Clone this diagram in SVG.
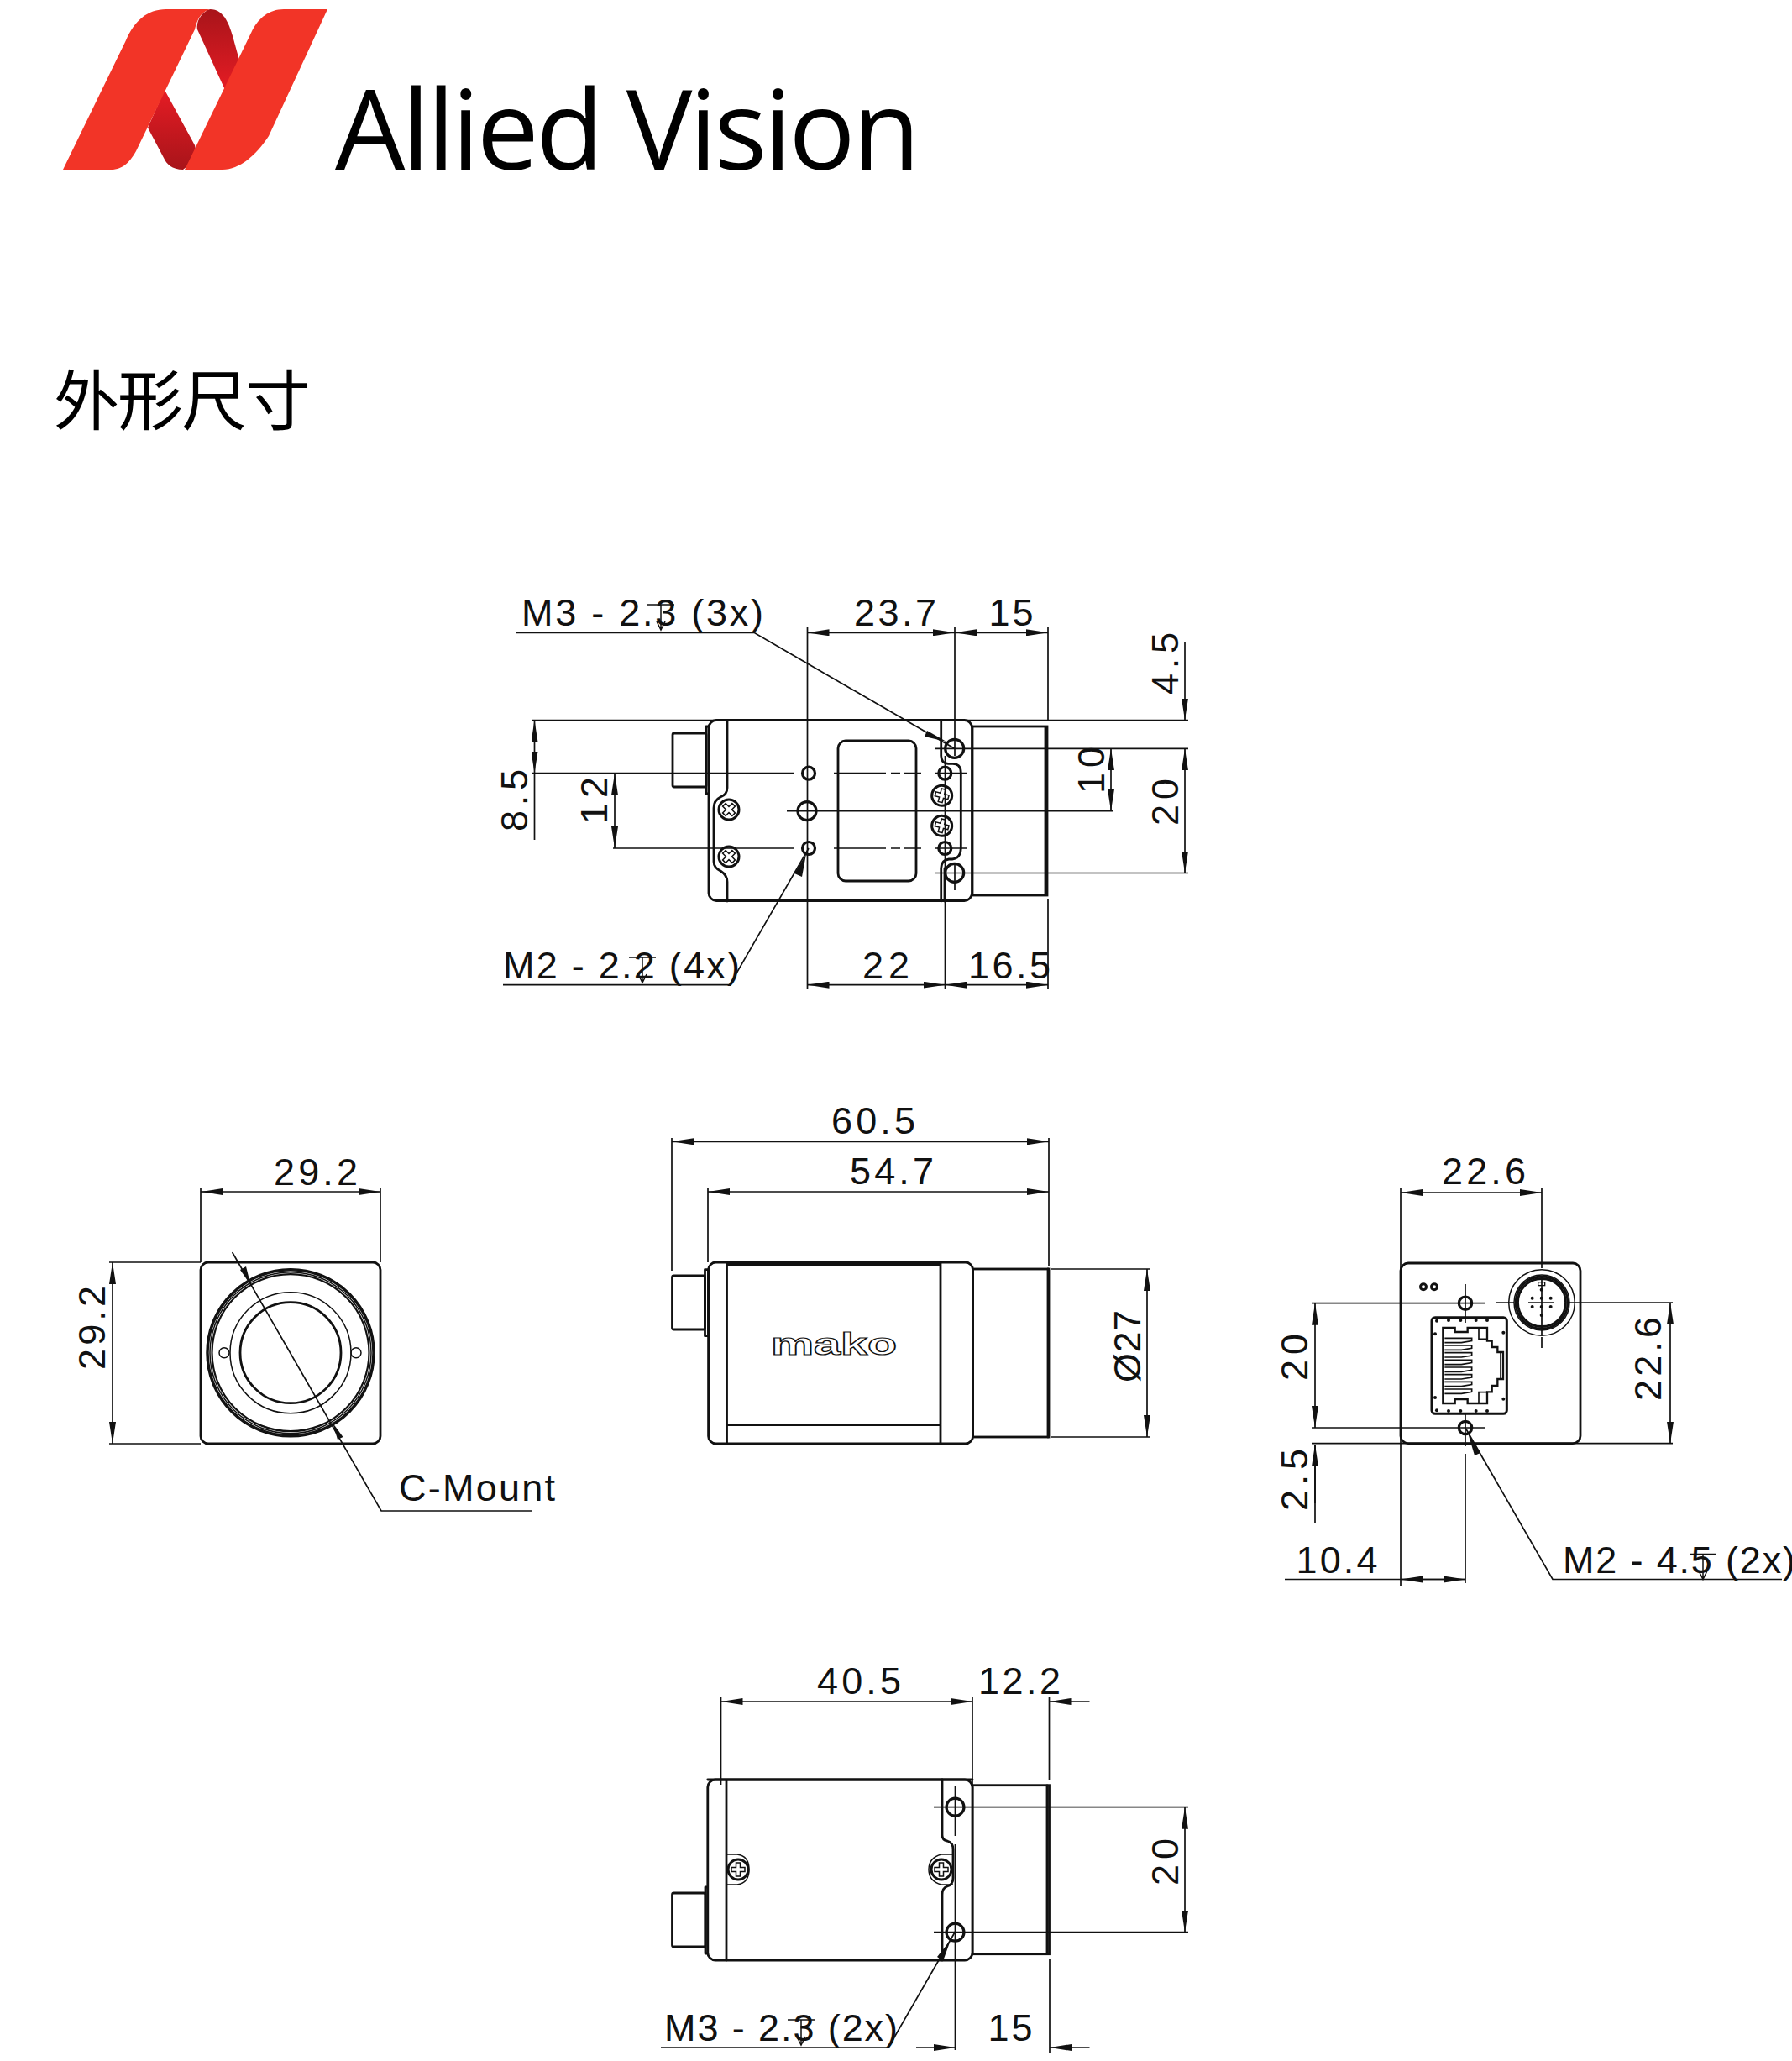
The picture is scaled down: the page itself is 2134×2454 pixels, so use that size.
<svg xmlns="http://www.w3.org/2000/svg" xmlns:xlink="http://www.w3.org/1999/xlink" width="2134" height="2454" viewBox="0 0 2134 2454">
<style>
text{font-family:"Liberation Sans",Arial,sans-serif;font-size:45px;fill:#111}
.c{text-anchor:middle}
.o{fill:none;stroke:#111;stroke-width:2.8;stroke-linejoin:round;stroke-linecap:round}
.t{fill:none;stroke:#111;stroke-width:1.5}
.w{fill:#fff;stroke:#111;stroke-width:2.8}
.d{fill:none;stroke:#111;stroke-width:1.7;marker-start:url(#a);marker-end:url(#a)}
.e{fill:none;stroke:#111;stroke-width:1.7;marker-end:url(#a)}
.s{fill:none;stroke:#111;stroke-width:1.7}
.p{fill:#111}
</style>
<defs>
<marker id="a" viewBox="0 0 26 8" refX="26" refY="4" markerWidth="26" markerHeight="8" markerUnits="userSpaceOnUse" orient="auto-start-reverse"><path d="M0 0L26 4L0 8Z" fill="#111"/></marker>
<linearGradient id="g1" x1="0" y1="0" x2="0" y2="1"><stop offset="0" stop-color="#a8141a"/><stop offset="1" stop-color="#e51c24"/></linearGradient>
<linearGradient id="g2" x1="0" y1="0" x2="0" y2="1"><stop offset="0" stop-color="#e51c24"/><stop offset="1" stop-color="#a8141a"/></linearGradient>
<g id="screw"><circle r="12" fill="#fff" stroke="#111" stroke-width="3"/><path d="M-2.500 -8H2.500V-2.500H8V2.500H2.500V8H-2.500V2.500H-8V-2.500H-2.500Z" class="t"/></g>
<g id="depth"><path d="M-16 0H16M0 0V30M-5 20L0 30L5 20" class="t"/></g>
<path id="fin" d="M118 0H215V10L178 16H118" fill="none" stroke="#111" stroke-width="5"/>
</defs>
<rect width="2134" height="2454" fill="#fff"/>

<g id="logo">
<path d="M250 11C268 11 274 32 279 50L290 90L268 107L235 35C233 26 240 14 250 11Z" fill="url(#g1)"/>
<path d="M196 107L232 173C235 182 232 192 218 202C205 202 198 195 195 188L176 152Z" fill="url(#g2)"/>
<path d="M75 202L150 48C160 25 175 11 198 11H250C240 14 235 22 232 35L162 180C155 192 147 202 132 202Z" fill="#f23427"/>
<path d="M390 11H338C320 11 308 22 301 35L220 202H265C285 202 305 185 320 162Z" fill="#f23427"/>
<text x="399" y="202" textLength="697" style="font-family:'Open Sans','Noto Sans',sans-serif;font-size:132px;fill:#000">Allied Vision</text>
</g>
<g id="title"><text x="64" y="506" textLength="306" style="font-family:'Liberation Sans','Noto Sans CJK SC',sans-serif;font-size:78px;fill:#000">外形尺寸</text></g>

<g id="view-top">
<rect x="801" y="873" width="40" height="64" rx="2" class="o"/>
<rect x="841" y="865" width="4" height="80" class="o"/>
<rect x="1158" y="865" width="89" height="201" class="w"/>
<path d="M1245 866V1065" class="o"/>
<rect x="844" y="857.500" width="313.500" height="215" rx="9" class="w"/>
<path d="M866 858V938Q866 946 858 949Q850 953 850 962V1026Q850 1033 858 1037Q866 1042 866 1050V1073" class="o"/>
<rect x="998" y="882" width="93" height="167" rx="9" class="o"/>
<path d="M1120.700 858V900Q1121 909 1129 909.300H1134Q1144 909 1144.300 920V1010Q1144 1022 1134 1023H1130Q1121 1024 1120.700 1034V1073M1125 1034V1073" class="o"/>
<g fill="#fff" stroke="#111" stroke-width="3.200">
<circle cx="963" cy="920.700" r="7.500"/><circle cx="961" cy="965.700" r="11"/><circle cx="963" cy="1010" r="7.500"/>
<circle cx="1125.300" cy="920.700" r="7.500"/><circle cx="1125.300" cy="1010" r="7.500"/>
<circle cx="1136.700" cy="891.300" r="11"/><circle cx="1136.700" cy="1039.300" r="11"/>
</g>
<use href="#screw" transform="translate(868 964) rotate(45)"/>
<use href="#screw" transform="translate(868 1020) rotate(45)"/>
<use href="#screw" transform="translate(1121.700 947.300) rotate(15)"/>
<use href="#screw" transform="translate(1121.700 983.300) rotate(15)"/>
</g>

<g id="view-front">
<rect x="239" y="1503" width="214" height="216" rx="9" class="w"/>
<g class="t"><circle cx="346" cy="1610.700" r="100"/><circle cx="346" cy="1610.700" r="98"/><circle cx="346" cy="1610.700" r="96"/><circle cx="346" cy="1610.700" r="72"/><circle cx="267" cy="1610.700" r="6"/><circle cx="424" cy="1610.700" r="6"/></g>
<circle cx="346" cy="1610.700" r="99" fill="none" stroke="#111" stroke-width="1.800"/>
<circle cx="346" cy="1610.700" r="93.500" fill="none" stroke="#111" stroke-width="2.200"/>
<circle cx="346" cy="1610.700" r="60" class="o"/>
</g>

<g id="view-side">
<rect x="800.500" y="1519" width="39" height="64" rx="2" class="o"/>
<rect x="839.500" y="1511.700" width="4" height="79" class="o"/>
<rect x="1158" y="1511" width="91" height="200" class="w"/>
<path d="M1248 1511V1711" class="o"/>
<rect x="843.600" y="1503" width="315" height="216" rx="9" class="w"/>
<path d="M865.500 1503V1719M1120 1503V1719M865.500 1505.500H1120M865.500 1696.700H1120" class="o"/>
<text x="993" y="1613" class="c" textLength="150" lengthAdjust="spacingAndGlyphs" style="font-size:36px;font-weight:700;fill:#fff;stroke:#111;stroke-width:1.200">mako</text>
</g>

<g id="view-rear">
<rect x="1668" y="1504" width="214" height="214.700" rx="9" class="w"/>
<circle cx="1695" cy="1532.300" r="3.500" fill="none" stroke="#111" stroke-width="3"/><circle cx="1708" cy="1532.300" r="3.500" fill="none" stroke="#111" stroke-width="3"/>
<g class="t"><circle cx="1836" cy="1551" r="39.300"/><circle cx="1836" cy="1551" r="33"/></g>
<circle cx="1836" cy="1551" r="31" class="o"/><circle cx="1836" cy="1551" r="28.500" class="o"/>
<g transform="translate(1681 1500) scale(.33333)">
<rect x="72" y="206" width="268" height="344" rx="12" fill="#fff" stroke="#111" stroke-width="9"/>
<path d="M112 243H155V258H200V243H270V290H287V312H307V330H327V426H307V450H287V472H270V513H200V498H155V513H112Z" fill="none" stroke="#111" stroke-width="7"/>
<path d="M240 243V283H270M240 513V473H270M318 330V426" fill="none" stroke="#111" stroke-width="5"/>
<use href="#fin" y="280"/><use href="#fin" y="306"/><use href="#fin" y="332"/><use href="#fin" y="358"/><use href="#fin" y="384"/><use href="#fin" y="410"/><use href="#fin" y="436"/><use href="#fin" y="462"/>
<g class="p"><circle cx="90" cy="218" r="6"/><circle cx="132" cy="216" r="6"/><circle cx="175" cy="216" r="6"/><circle cx="230" cy="216" r="6"/><circle cx="270" cy="216" r="6"/><circle cx="90" cy="538" r="6"/><circle cx="132" cy="540" r="6"/><circle cx="175" cy="540" r="6"/><circle cx="230" cy="540" r="6"/><circle cx="270" cy="540" r="6"/><circle cx="84" cy="265" r="6"/><circle cx="84" cy="492" r="6"/><circle cx="328" cy="260" r="6"/><circle cx="328" cy="497" r="6"/></g>
<g class="p"><circle cx="431" cy="137" r="6"/><circle cx="464" cy="137" r="6"/><circle cx="497" cy="137" r="6"/><circle cx="431" cy="168" r="6"/><circle cx="464" cy="168" r="6"/><circle cx="497" cy="168" r="6"/><circle cx="464" cy="107" r="6"/><circle cx="464" cy="198" r="6"/></g>
<rect x="452" y="80" width="24" height="12" fill="#fff" stroke="#111" stroke-width="4"/>
</g>
<circle cx="1745" cy="1551.700" r="7.700" fill="none" stroke="#111" stroke-width="3.200"/><circle cx="1745" cy="1700" r="7.700" fill="none" stroke="#111" stroke-width="3.200"/>
</g>

<g id="view-bottom">
<rect x="800.500" y="2254" width="39.500" height="64" rx="2" class="o"/>
<rect x="840" y="2247" width="3" height="79" class="o"/>
<rect x="1158" y="2125.700" width="91.500" height="201" class="w"/>
<path d="M1247 2126V2326" class="o"/>
<rect x="842.800" y="2119" width="315.200" height="215" rx="9" class="w"/>
<path d="M865 2119V2334M842.800 2119H1158" class="o"/>
<path d="M1122 2119V2185Q1122 2191 1128 2192Q1135 2194 1135 2202V2236Q1135 2244 1128 2246Q1122 2248 1122 2256V2334" class="o"/>
<path d="M865 2208H878Q892 2210 892 2226Q892 2242 878 2244H865M1135 2208H1121Q1106 2212 1106 2226Q1106 2240 1121 2244H1135" class="t"/>
<use href="#screw" transform="translate(879 2226)"/>
<use href="#screw" transform="translate(1121 2226)"/>
<circle cx="1137.500" cy="2151.700" r="10.500" fill="none" stroke="#111" stroke-width="3.200"/><circle cx="1137.500" cy="2300.700" r="10.500" fill="none" stroke="#111" stroke-width="3.200"/>
</g>

<g id="connectors">
<!-- top view -->
<path class="s" d="M961.500 746V905M961.500 905V1177M1137 746V900M1125.500 900V1177M1248 746V858M1248 1070V1177M633 857.500H1415M1114 891.300H1415M633 920.700H945M993 920.700H1055M1061 920.700H1072M1077 920.700H1097M1114 920.700H1151M937 965.700H1326M730 1010H945M993 1010H1055M1061 1010H1072M1077 1010H1097M1114 1010H1151M1114 1039.500H1415M636.500 920V1000M1137 1030V1060"/>
<path class="d" d="M961.500 753.300H1137"/><path class="d" d="M1137 753.300H1248"/>
<path class="d" d="M961.500 1172.700H1125.500"/><path class="d" d="M1125.500 1172.700H1248"/>
<path class="d" d="M636.500 857.500V920.700"/><path class="d" d="M732 920.700V1010"/><path class="d" d="M1323 891.300V965.700"/><path class="d" d="M1411 891.300V1039.500"/><path class="e" d="M1411 765V857.500"/>
<path class="s" d="M614 753.300H898L1136.700 891.300"/><path class="s" d="M599 1172.700H869L963 1010"/>
<path class="p" d="M1104 870L1127 883L1101 877Z"/><path class="p" d="M946 1040L960 1017L955 1044Z"/>
<use href="#depth" x="787" y="720"/><use href="#depth" x="765" y="1140"/>
<!-- front view -->
<path class="s" d="M239 1415V1503M453 1415V1503M130 1503H239M130 1719H239"/>
<path class="d" d="M239 1419H453"/><path class="d" d="M134 1503V1719"/>
<path class="s" d="M276.600 1491L454 1799H634"/>
<path class="p" d="M286 1512L298.500 1530L293 1508Z"/><path class="p" d="M408.500 1711L396 1694L402 1714Z"/>
<!-- side view -->
<path class="s" d="M800 1355V1513M1249 1355V1507M843 1415V1503M1252 1511H1370M1252 1711H1370"/>
<path class="d" d="M800 1359.300H1249"/><path class="d" d="M843 1419H1249"/><path class="d" d="M1366 1511V1711"/>
<!-- rear view -->
<path class="s" d="M1668 1415V1888M1836 1415V1510M1836 1592V1605M1781 1551H1803M1820 1551H1851M1867 1551H1992M1562 1551.700H1768M1562 1700H1768M1562 1718.700H1992M1745 1529V1575M1745 1683V1722M1745 1731V1885M1566 1720V1813M1836 1520V1590"/>
<path class="d" d="M1668 1420H1836"/><path class="d" d="M1566 1551.700V1700"/><path class="d" d="M1989 1551V1718.700"/>
<path class="s" d="M1530 1880.500H1745"/><path class="d" d="M1668 1880.500H1745"/>
<path class="e" d="M1566 1790V1720"/>
<path class="s" d="M2122 1880.500H1849L1745 1700"/><path class="p" d="M1763 1730L1748 1706L1756 1733Z"/>
<use href="#depth" x="2028" y="1850.500"/>
<!-- bottom view -->
<path class="s" d="M858.500 2020V2125M1158 2020V2125M1249.500 2020V2120M1250 2332V2445M1137.500 2127V2186M1137.500 2196V2441M1112 2151.700H1415M1112 2300.700H1415"/>
<path class="d" d="M858.500 2026H1158"/><path class="e" d="M1297.500 2026H1249.500"/><path class="d" d="M1411 2151.700V2300.700"/>
<path class="e" d="M1091 2438H1137.500"/><path class="e" d="M1297.500 2438H1250"/>
<path class="s" d="M787 2438H1058L1137.500 2300"/><path class="p" d="M1116 2330L1132 2310L1123 2335Z"/>
<use href="#depth" x="954" y="2405"/>
<!-- labels -->
<text x="1066" y="745" class="c" textLength="98">23.7</text>
<text x="1204" y="745" class="c" textLength="53">15</text>
<text x="621" y="745" textLength="288">M3 - 2.3 (3x)</text>
<text x="1055" y="1165" class="c" textLength="56">22</text>
<text x="1202" y="1165" class="c" textLength="98">16.5</text>
<text x="599" y="1165" textLength="282">M2 - 2.2 (4x)</text>
<text transform="translate(628 953) rotate(-90)" class="c" textLength="74">8.5</text>
<text transform="translate(723 953) rotate(-90)" class="c" textLength="56">12</text>
<text transform="translate(1315 917) rotate(-90)" class="c" textLength="56">10</text>
<text transform="translate(1403 955) rotate(-90)" class="c" textLength="56">20</text>
<text transform="translate(1403 790) rotate(-90)" class="c" textLength="74">4.5</text>
<text x="376" y="1410.700" class="c" textLength="100">29.2</text>
<text transform="translate(125 1581) rotate(-90)" class="c" textLength="100">29.2</text>
<text x="475" y="1786.700" textLength="186">C-Mount</text>
<text x="1040" y="1350" class="c" textLength="100">60.5</text>
<text x="1062" y="1410" class="c" textLength="100">54.7</text>
<text transform="translate(1358 1603) rotate(-90)" class="c" textLength="86">Ø27</text>
<text x="1767" y="1410" class="c" textLength="100">22.6</text>
<text transform="translate(1557 1616) rotate(-90)" class="c" textLength="56">20</text>
<text transform="translate(1557 1762) rotate(-90)" class="c" textLength="74">2.5</text>
<text transform="translate(1978 1618) rotate(-90)" class="c" textLength="100">22.6</text>
<text x="1592" y="1873" class="c" textLength="97">10.4</text>
<text x="1861" y="1873" textLength="277">M2 - 4.5 (2x)</text>
<text x="1023" y="2017" class="c" textLength="100">40.5</text>
<text x="1214" y="2017" class="c" textLength="98">12.2</text>
<text transform="translate(1403 2217) rotate(-90)" class="c" textLength="56">20</text>
<text x="1203" y="2430" class="c" textLength="53">15</text>
<text x="791" y="2430" textLength="278">M3 - 2.3 (2x)</text>
</g>
</svg>
